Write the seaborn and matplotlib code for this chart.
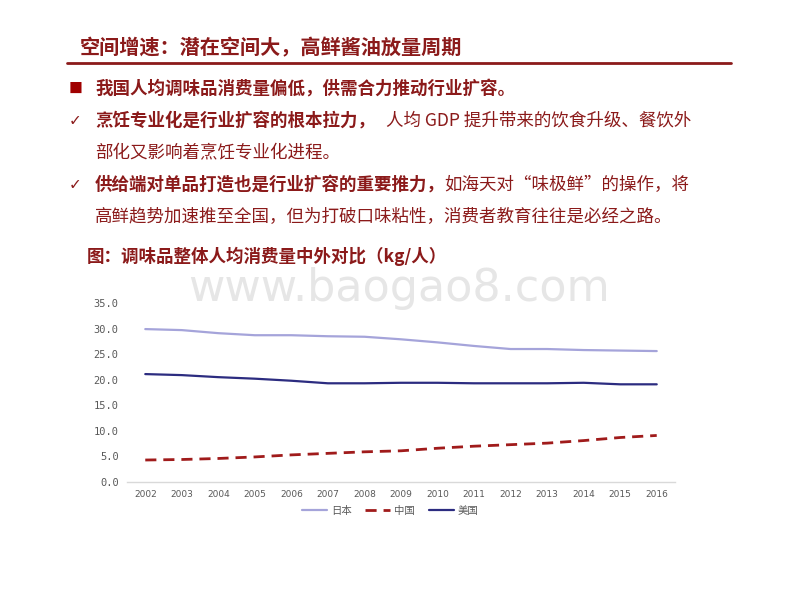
import matplotlib
matplotlib.use("Agg")
import matplotlib.pyplot as plt
from matplotlib.lines import Line2D
import seaborn as sns
import pandas as pd

# data
years = list(range(2002, 2017))
japan = [29.9, 29.7, 29.1, 28.7, 28.7, 28.5, 28.4, 27.9, 27.3, 26.6, 26.0, 26.0, 25.8, 25.7, 25.6]
china = [4.3, 4.4, 4.6, 4.9, 5.3, 5.6, 5.9, 6.1, 6.6, 7.0, 7.3, 7.6, 8.1, 8.7, 9.1]
usa = [21.1, 20.9, 20.5, 20.2, 19.8, 19.3, 19.3, 19.4, 19.4, 19.3, 19.3, 19.3, 19.4, 19.1, 19.1]
series_names = ["日本", "中国", "美国"]
y_ticks = [0, 5, 10, 15, 20, 25, 30, 35]

slide_title = "空间增速：潜在空间大，高鲜酱油放量周期"
bullet1 = "我国人均调味品消费量偏低，供需合力推动行业扩容。"
bullet2_bold = "烹饪专业化是行业扩容的根本拉力，"
bullet2_rest = "人均 GDP 提升带来的饮食升级、餐饮外"
bullet2_line2 = "部化又影响着烹饪专业化进程。"
bullet3_bold = "供给端对单品打造也是行业扩容的重要推力，"
bullet3_rest = "如海天对“味极鲜”的操作，将"
bullet3_line2 = "高鲜趋势加速推至全国，但为打破口味粘性，消费者教育往往是必经之路。"
chart_title = "图：调味品整体人均消费量中外对比（kg/人）"
watermark = "www.baogao8.com"

sns.set_style("white")
plt.rcParams['font.family'] = ['Noto Sans CJK SC', 'DejaVu Sans']

dark_red = "#8b1a1a"
c_japan = "#a5a4da"
c_china = "#a01b1b"
c_usa = "#2c2c80"

fig = plt.figure(figsize=(8, 6), dpi=100)
fig.patch.set_facecolor("white")

W, H = 800.0, 600.0
def fx(x):
    return x / W
def fy(y):
    return 1 - y / H

# slide header
fig.text(fx(80), fy(48), slide_title, fontsize=14.5, color=dark_red, weight="bold",
         va="center", ha="left")
fig.add_artist(Line2D([fx(67), fx(731)], [fy(63), fy(63)], color=dark_red, lw=2))

# bullets
fs = 12.6
tx = 95
fig.text(fx(69), fy(89), "■", fontsize=10, color="#a00000", va="center", ha="left")
fig.text(fx(tx), fy(89), bullet1, fontsize=fs, color=dark_red, weight="bold", va="center")

fig.text(fx(69), fy(121), "✓", fontsize=11, color=dark_red, va="center",
         family=['DejaVu Sans'])
fig.text(fx(tx), fy(121), bullet2_bold, fontsize=fs, color=dark_red, weight="bold", va="center")
fig.text(fx(386), fy(121), bullet2_rest, fontsize=fs, color=dark_red, va="center")
fig.text(fx(tx), fy(152), bullet2_line2, fontsize=fs, color=dark_red, va="center")

fig.text(fx(69), fy(185), "✓", fontsize=11, color=dark_red, va="center",
         family=['DejaVu Sans'])
fig.text(fx(tx), fy(185), bullet3_bold, fontsize=fs, color=dark_red, weight="bold", va="center")
fig.text(fx(444), fy(185), bullet3_rest, fontsize=fs, color=dark_red, va="center")
fig.text(fx(tx), fy(216), bullet3_line2, fontsize=fs, color=dark_red, va="center")

fig.text(fx(87), fy(256), chart_title, fontsize=12.6, color=dark_red, weight="bold", va="center")

# watermark
fig.text(fx(399), fy(301), watermark, fontsize=32, color="#e6e6e6", ha="center",
         va="baseline", family=['DejaVu Sans'], zorder=0)

# chart
df = pd.DataFrame({"year": years, "日本": japan, "中国": china, "美国": usa})
ax = fig.add_axes([fx(127), fy(482), fx(675) - fx(127), fy(303) - fy(482)])
ax.patch.set_alpha(0)
dash = (0, (4, 2.5))
sns.lineplot(data=df, x="year", y="日本", ax=ax, color=c_japan, lw=1.6)
sns.lineplot(data=df, x="year", y="中国", ax=ax, color=c_china, lw=2, linestyle=dash)
sns.lineplot(data=df, x="year", y="美国", ax=ax, color=c_usa, lw=1.6)

ax.set_xlim(2001.5, 2016.5)
ax.set_ylim(0, 35)
ax.set_xticks(years)
ax.set_xticklabels([str(y) for y in years], fontsize=6.5, color="#595959",
                   family=['DejaVu Sans'])
ax.set_yticks(y_ticks)
ax.set_yticklabels([f"{v:.1f}" for v in y_ticks], fontsize=7.5, color="#595959",
                   family=['DejaVu Sans Mono'])
ax.set_xlabel("")
ax.set_ylabel("")
ax.tick_params(axis="both", length=0, pad=6)
for s in ["top", "right", "left"]:
    ax.spines[s].set_visible(False)
ax.spines["bottom"].set_color("#d9d9d9")
ax.spines["bottom"].set_linewidth(1)

handles = [
    Line2D([], [], color=c_japan, lw=1.6),
    Line2D([], [], color=c_china, lw=2, linestyle=dash),
    Line2D([], [], color=c_usa, lw=1.6),
]
leg = fig.legend(handles, series_names, loc="center", bbox_to_anchor=(fx(390), fy(511)),
                 ncol=3, frameon=False, fontsize=7.5, handlelength=2.4,
                 columnspacing=1.3, handletextpad=0.4)
for t in leg.get_texts():
    t.set_color("#595959")

fig.savefig("out.png", dpi=100)
